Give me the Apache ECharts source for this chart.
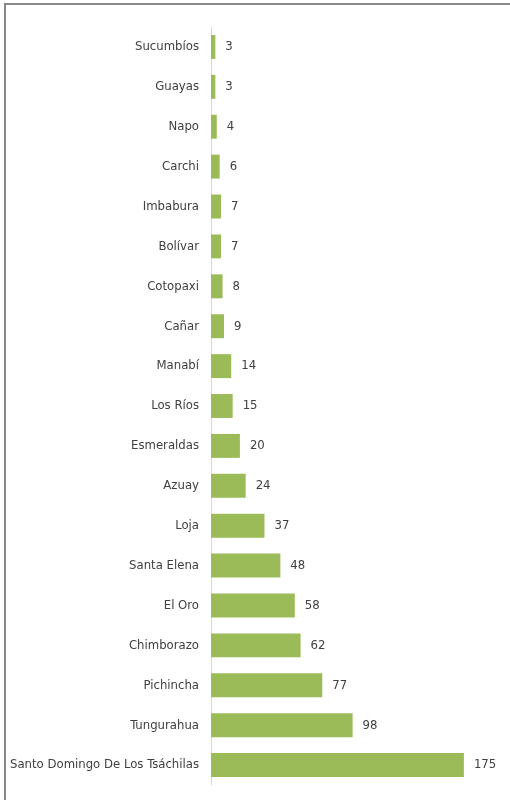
<!DOCTYPE html>
<html>
<head>
<meta charset="utf-8">
<script src="https://cdn.jsdelivr.net/npm/echarts@6/dist/echarts.min.js"></script>
<style>
html,body{margin:0;padding:0;background:#fff;}
#c{width:510px;height:800px;}
</style>
</head>
<body>
<div id="c"></div>
<script>
const categories = ["Sucumbíos","Guayas","Napo","Carchi","Imbabura","Bolívar","Cotopaxi","Cañar","Manabí","Los Ríos","Esmeraldas","Azuay","Loja","Santa Elena","El Oro","Chimborazo","Pichincha","Tungurahua","Santo Domingo De Los Tsáchilas"];
const values = [3,3,4,6,7,7,8,9,14,15,20,24,37,48,58,62,77,98,175];

const FONT = '"Liberation Sans Narrow", "DejaVu Sans Condensed", sans-serif';
const chart = echarts.init(document.getElementById('c'));
chart.setOption({
  animation: false,
  backgroundColor: '#fff',
  graphic: [
    {type:'rect', shape:{x:5, y:4, width:600, height:900}, style:{fill:'none', stroke:'#888', lineWidth:2}, z:-1}
  ],
  grid: {left: 211, right: 10, top: 27, bottom: 15, containLabel: false, outerBoundsMode: 'none'},
  xAxis: {type:'value', min:0, max:200, show:false},
  yAxis: {
    type:'category', data: categories, inverse: true,
    axisLine:{show:true, lineStyle:{color:'#d9d9d9', width:1}},
    axisTick:{show:false},
    axisLabel:{color:'#404040', fontFamily: FONT, fontSize:13, margin:12}
  },
  series: [{
    type:'bar', data: values, barCategoryGap:'40%',
    itemStyle:{color:'#9BBB59'},
    label:{show:true, position:'right', distance:10, color:'#404040', fontFamily: FONT, fontSize:13}
  }]
});
</script>
</body>
</html>
